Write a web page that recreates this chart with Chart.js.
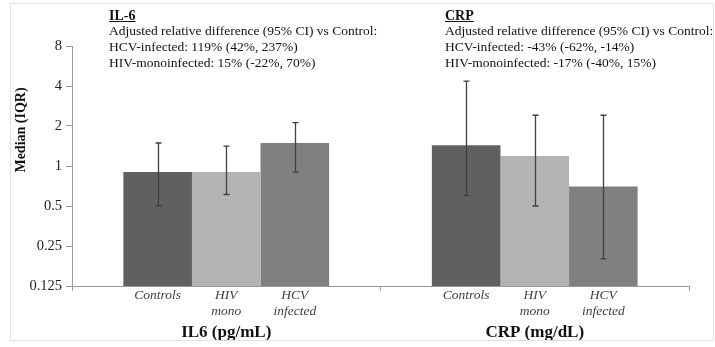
<!DOCTYPE html>
<html>
<head>
<meta charset="utf-8">
<script src="https://cdn.jsdelivr.net/npm/chart.js@4.4.1/dist/chart.umd.min.js"></script>
<style>
  html, body { margin: 0; padding: 0; background: #fff; }
  canvas { display: block; }
</style>
</head>
<body>
<canvas id="c" width="715" height="347"></canvas>
<script>
// ---- Data ----
const categories = ['IL6 (pg/mL)', 'CRP (mg/dL)'];
const groupNames = ['Controls', 'HIV mono', 'HCV infected'];
const subLabels = [['Controls'], ['HIV', 'mono'], ['HCV', 'infected']];

const controls = [0.90, 1.43];
const hivMono = [0.90, 1.19];
const hcvInfected = [1.49, 0.70];

const controlsLow = [0.50, 0.60];
const controlsHigh = [1.49, 4.36];
const hivMonoLow = [0.61, 0.50];
const hivMonoHigh = [1.41, 2.41];
const hcvInfectedLow = [0.90, 0.20];
const hcvInfectedHigh = [2.12, 2.41];

const yTickValues = [0.125, 0.25, 0.5, 1, 2, 4, 8];
const yTickLabels = ['0.125', '0.25', '0.5', '1', '2', '4', '8'];

const annotations = [
  { title: 'IL-6', lines: ['Adjusted relative difference (95% CI) vs Control:', 'HCV-infected: 119% (42%, 237%)', 'HIV-monoinfected: 15% (-22%, 70%)'] },
  { title: 'CRP', lines: ['Adjusted relative difference (95% CI) vs Control:', 'HCV-infected: -43% (-62%, -14%)', 'HIV-monoinfected: -17% (-40%, 15%)'] }
];

const errLow = [controlsLow, hivMonoLow, hcvInfectedLow];
const errHigh = [controlsHigh, hivMonoHigh, hcvInfectedHigh];

const SERIF = '"Liberation Serif", "Times New Roman", serif';

const extras = {
  id: 'extras',
  beforeDraw(chart) {
    const ctx = chart.ctx;
    ctx.save();
    ctx.fillStyle = '#fff';
    ctx.fillRect(0, 0, chart.width, chart.height);
    ctx.restore();
  },
  afterDatasetsDraw(chart) {
    const ctx = chart.ctx;
    const y = chart.scales.y;
    ctx.save();
    ctx.strokeStyle = '#404040';
    ctx.lineWidth = 1.3;
    chart.data.datasets.forEach((ds, di) => {
      const meta = chart.getDatasetMeta(di);
      meta.data.forEach((bar, i) => {
        const x = Math.round(bar.x) + 0.5;
        const yl = y.getPixelForValue(errLow[di][i]);
        const yh = y.getPixelForValue(errHigh[di][i]);
        ctx.beginPath();
        ctx.moveTo(x, yl); ctx.lineTo(x, yh);
        ctx.moveTo(x - 3, yl); ctx.lineTo(x + 3, yl);
        ctx.moveTo(x - 3, yh); ctx.lineTo(x + 3, yh);
        ctx.stroke();
      });
    });
    ctx.restore();
  },
  afterDraw(chart) {
    const ctx = chart.ctx;
    ctx.save();
    // frame
    ctx.strokeStyle = '#e2e2e2';
    ctx.lineWidth = 1;
    ctx.strokeRect(10.5, 3.5, 703, 337);

    // sub labels under each bar
    ctx.fillStyle = '#404040';
    ctx.font = 'italic 13.5px ' + SERIF;
    ctx.textAlign = 'center';
    ctx.textBaseline = 'middle';
    chart.data.datasets.forEach((ds, di) => {
      const meta = chart.getDatasetMeta(di);
      meta.data.forEach((bar) => {
        subLabels[di].forEach((t, k) => {
          ctx.fillText(t, bar.x, 295 + k * 16);
        });
      });
    });

    // y axis title
    ctx.save();
    ctx.translate(21, 130);
    ctx.rotate(-Math.PI / 2);
    ctx.font = 'bold 14px ' + SERIF;
    ctx.fillStyle = '#111';
    ctx.textAlign = 'center';
    ctx.textBaseline = 'middle';
    ctx.fillText('Median (IQR)', 0, 0);
    ctx.restore();

    // annotation blocks
    const xs = [109, 445];
    annotations.forEach((a, k) => {
      const x0 = xs[k];
      ctx.fillStyle = '#111';
      ctx.textAlign = 'left';
      ctx.textBaseline = 'alphabetic';
      ctx.font = 'bold 14px ' + SERIF;
      ctx.fillText(a.title, x0, 19.5);
      const w = ctx.measureText(a.title).width;
      ctx.fillRect(x0, 21, w, 1);
      ctx.font = '13.5px ' + SERIF;
      a.lines.forEach((l, j) => {
        ctx.fillText(l, x0, 35 + j * 16);
      });
    });
    ctx.restore();
  }
};

new Chart(document.getElementById('c'), {
  type: 'bar',
  data: {
    labels: categories,
    datasets: [
      { label: groupNames[0], data: controls, backgroundColor: '#606060' },
      { label: groupNames[1], data: hivMono, backgroundColor: '#b3b3b3' },
      { label: groupNames[2], data: hcvInfected, backgroundColor: '#808080' }
    ]
  },
  options: {
    responsive: false,
    animation: false,
    devicePixelRatio: 1,
    layout: { padding: { left: 0, right: 26, top: 46, bottom: 0 } },
    datasets: { bar: { categoryPercentage: 0.667, barPercentage: 1.0 } },
    plugins: { legend: { display: false }, tooltip: { enabled: false } },
    scales: {
      x: {
        grid: { display: true, drawOnChartArea: false, drawTicks: true, tickLength: 5, color: '#999', offset: true },
        border: { display: true, color: '#999' },
        ticks: { color: '#111', font: { family: SERIF, size: 17, weight: 'bold' }, padding: 31 },
        afterFit(s) { s.height = 61; }
      },
      y: {
        type: 'logarithmic',
        min: 0.125,
        max: 8,
        grid: { display: true, drawOnChartArea: false, drawTicks: true, tickLength: 6, color: '#999' },
        border: { display: true, color: '#999' },
        afterBuildTicks(s) { s.ticks = yTickValues.map(v => ({ value: v })); },
        ticks: {
          color: '#222',
          font: { family: SERIF, size: 14.5 },
          padding: 4,
          callback: (v, i) => yTickLabels[i]
        },
        afterFit(s) { s.width = 72; }
      }
    }
  },
  plugins: [extras]
});
</script>
</body>
</html>
